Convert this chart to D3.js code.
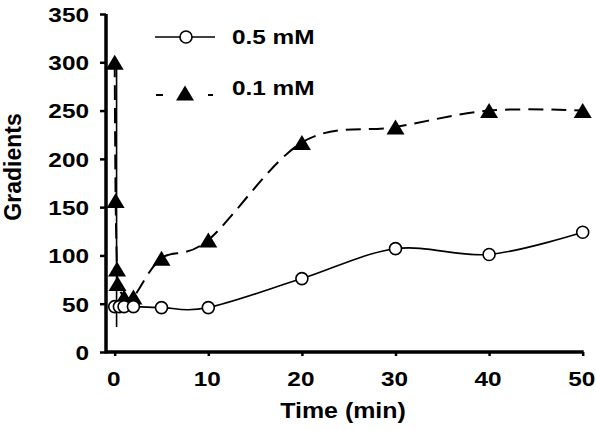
<!DOCTYPE html>
<html><head><meta charset="utf-8">
<script src="https://cdn.jsdelivr.net/npm/d3@7"></script>
<style>body{margin:0;background:#fff}</style></head>
<body><svg id="c" width="596" height="430"></svg>
<script>
// ---- data ----
const time05 = [0, 0.5, 1, 2, 5, 10, 20, 30, 40, 50];
const val05  = [47, 47, 47, 47, 46, 46, 76, 107, 101, 124];
const time01 = [0, 0.1, 0.25, 0.3, 1, 2, 5, 10, 20, 30, 40, 50];
const val01  = [300, 157, 86, 71, 57, 57, 97, 116, 217, 233, 250, 250];
const whiskerTime = [0.2];
const whiskerLow  = [26];
const whiskerHigh = [300];
const xTicks = [0, 10, 20, 30, 40, 50];
const yTicks = [0, 50, 100, 150, 200, 250, 300, 350];
const seriesNames = ["0.5 mM", "0.1 mM"];
const xTitle = "Time (min)";
const yTitle = "Gradients";

const svg = d3.select("#c");
const FONT = "'Liberation Sans', Arial, sans-serif";
const SX = 1.16;

const x = d3.scaleLinear().domain([0, 50]).range([114.7, 582.7]);
const y = d3.scaleLinear().domain([0, 350]).range([352, 14]);
const axisX0 = 106;

// axes
const gy = svg.append("g").attr("transform", `translate(${axisX0},0)`)
  .call(d3.axisLeft(y).tickValues(yTicks).tickSize(6).tickSizeOuter(0).tickFormat(""));
gy.select(".domain").remove();
gy.selectAll(".tick line").attr("stroke", "#000").attr("stroke-width", 2.5);
const gx = svg.append("g").attr("transform", `translate(0,${y(0)})`)
  .call(d3.axisBottom(x).tickValues(xTicks).tickSize(4).tickSizeOuter(0).tickFormat(""));
gx.select(".domain").remove();
gx.selectAll(".tick line").attr("stroke", "#000").attr("stroke-width", 2.5);
svg.append("line").attr("x1", axisX0).attr("x2", axisX0).attr("y1", y(350)).attr("y2", y(0) + 1.5)
  .attr("stroke", "#000").attr("stroke-width", 3.5);
svg.append("line").attr("x1", axisX0).attr("x2", x(50) + 1).attr("y1", y(0)).attr("y2", y(0))
  .attr("stroke", "#000").attr("stroke-width", 3.5);

function stext(px, py, str, anchor, size) {
  svg.append("text").attr("transform", `translate(${px},${py}) scale(${SX},1)`)
    .attr("text-anchor", anchor).attr("font-family", FONT).attr("font-weight", "bold")
    .attr("font-size", size).attr("fill", "#000").text(str);
}
yTicks.forEach(v => stext(89, y(v) + 7.8, v, "end", 21));
xTicks.forEach(v => stext(x(v) - 1, 386, v, "middle", 21));
stext(343, 418, xTitle, "middle", 21.5);
svg.append("text").attr("transform", "translate(21,167) rotate(-90)")
  .attr("text-anchor", "middle").attr("font-family", FONT).attr("font-weight", "bold")
  .attr("font-size", 23).text(yTitle);

// series
const d05 = time05.map((t, i) => [t, val05[i]]);
const d01 = time01.map((t, i) => [t, val01[i]]);
const line = d3.line().x(d => x(d[0])).y(d => y(d[1])).curve(d3.curveCardinal.tension(0));

svg.append("path").attr("d", line(d01)).attr("fill", "none").attr("stroke", "#000")
  .attr("stroke-width", 2).attr("stroke-dasharray", "15,8");
svg.append("path").attr("d", line(d05)).attr("fill", "none").attr("stroke", "#000")
  .attr("stroke-width", 1.6);
whiskerTime.forEach((t, i) => {
  svg.append("line").attr("x1", x(t)).attr("x2", x(t)).attr("y1", y(whiskerHigh[i])).attr("y2", y(whiskerLow[i]))
    .attr("stroke", "#000").attr("stroke-width", 1.6);
});

function tri(cx, cy) {
  const w = 18, h = 15;
  return `M${cx},${cy - h / 2}L${cx + w / 2},${cy + h / 2}L${cx - w / 2},${cy + h / 2}Z`;
}
svg.append("g").selectAll("path").data(d01).join("path")
  .attr("d", d => tri(x(d[0]), y(d[1]))).attr("fill", "#000");
svg.append("g").selectAll("circle").data(d05).join("circle")
  .attr("cx", d => x(d[0])).attr("cy", d => y(d[1])).attr("r", 6)
  .attr("fill", "#fff").attr("stroke", "#000").attr("stroke-width", 1.6);

// legend
svg.append("line").attr("x1", 155).attr("x2", 215).attr("y1", 37).attr("y2", 37)
  .attr("stroke", "#000").attr("stroke-width", 1.6);
svg.append("circle").attr("cx", 186).attr("cy", 37).attr("r", 6)
  .attr("fill", "#fff").attr("stroke", "#000").attr("stroke-width", 1.6);
stext(232, 44, seriesNames[0], "start", 21);
svg.append("line").attr("x1", 156).attr("x2", 213).attr("y1", 95).attr("y2", 95)
  .attr("stroke", "#000").attr("stroke-width", 2).attr("stroke-dasharray", "7,45");
svg.append("path").attr("d", tri(185, 93)).attr("fill", "#000");
stext(232, 95, seriesNames[1], "start", 21);
</script>
</body></html>
